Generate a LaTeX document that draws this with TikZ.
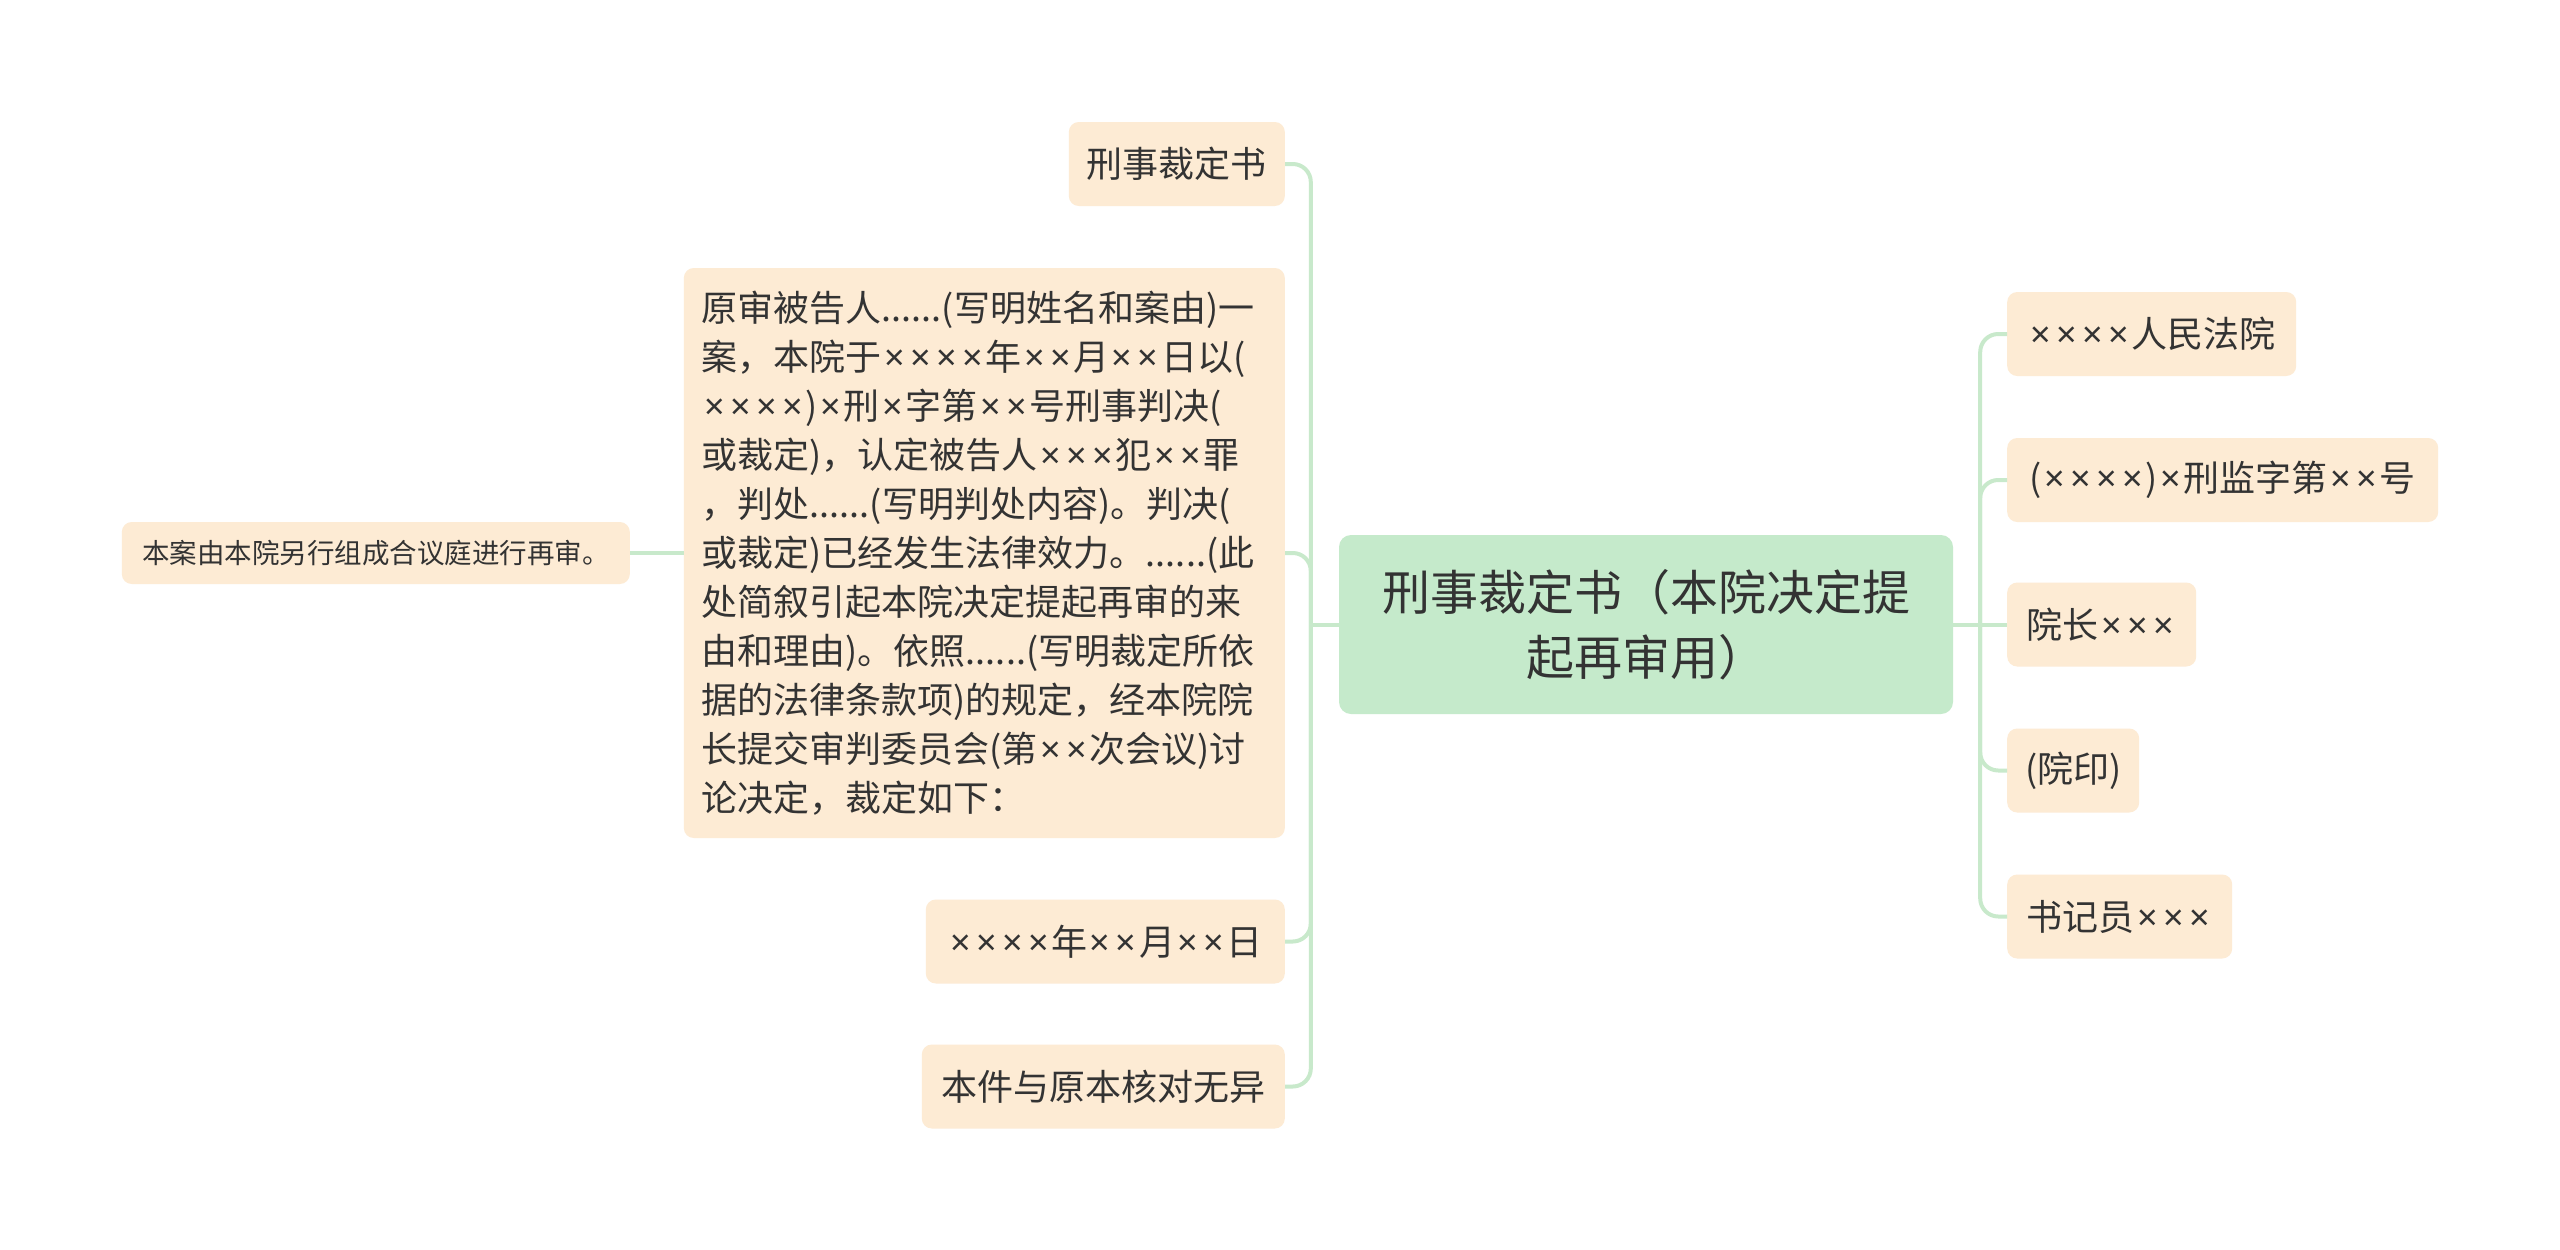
\documentclass[tikz,border=0pt]{standalone}
\usepackage{fontspec}
\setmainfont{Noto Sans CJK SC}
\newfontfamily\xfont{Noto Sans}
\newcommand\X{\makebox[0.72em]{\xfont ×}}
\usetikzlibrary{calc}
\definecolor{peach}{HTML}{FDEBD4}
\definecolor{rootg}{HTML}{C5EACB}
\definecolor{lineg}{HTML}{C8E9CB}
\definecolor{txt}{HTML}{333333}
\begin{document}
\begin{tikzpicture}[x=1pt,y=-1pt,
  leaf/.style={fill=peach, rounded corners=10, text=txt, inner sep=0pt,
    font=\fontsize{36}{49}\selectfont, minimum height=84},
  rootbox/.style={fill=rootg, rounded corners=12, text=txt, inner sep=0pt,
    align=center, font=\fontsize{48}{65}\selectfont},
  conn/.style={draw=lineg, line width=4, rounded corners=18}]
\useasboundingbox[fill=white] (0,0) rectangle (2560,1250);

% root
\node[rootbox, minimum width=614, minimum height=179] (root) at (1646,624.5)
  {刑事裁定书（本院决定提\\起再审用）};

% left children
\node[leaf, anchor=east, minimum width=216] (t1) at (1285,164) {刑事裁定书};
\node[leaf, anchor=east, minimum width=601, minimum height=570, align=left,
      text width=565, inner xsep=18] (big) at (1285,553)
  {原审被告人......(写明姓名和案由)一\\
   案，本院于\X\X\X\X 年\X\X 月\X\X 日以(\\
   \X\X\X\X)\X 刑\X 字第\X\X 号刑事判决(\\
   或裁定)，认定被告人\X\X\X 犯\X\X 罪\\
   ，判处......(写明判处内容)。判决(\\
   或裁定)已经发生法律效力。......(此\\
   处简叙引起本院决定提起再审的来\\
   由和理由)。依照......(写明裁定所依\\
   据的法律条款项)的规定，经本院院\\
   长提交审判委员会(第\X\X 次会议)讨\\
   论决定，裁定如下：};
\node[leaf, anchor=east, minimum width=508, minimum height=62,
      font=\fontsize{27.5}{33}\selectfont] (n1) at (630,553)
  {本案由本院另行组成合议庭进行再审。};
\node[leaf, anchor=east, minimum width=359] (date) at (1285,941.5) {\X\X\X\X 年\X\X 月\X\X 日};
\node[leaf, anchor=east, minimum width=363] (copy) at (1285,1086.5) {本件与原本核对无异};

% right children
\node[leaf, anchor=west, minimum width=289] (r1) at (2007,334) {\X\X\X\X 人民法院};
\node[leaf, anchor=west, minimum width=431] (r2) at (2007,480) {(\X\X\X\X)\X 刑监字第\X\X 号};
\node[leaf, anchor=west, minimum width=189] (r3) at (2007,624.5) {院长\X\X\X};
\node[leaf, anchor=west, minimum width=132] (r4) at (2007,770.5) {(院印)};
\node[leaf, anchor=west, minimum width=225] (r5) at (2007,916.5) {书记员\X\X\X};

% connectors
\coordinate (LT) at ($(root.west)+(-28,0)$);
\coordinate (RT) at ($(root.east)+(27,0)$);
\draw[conn] (root.west) -- (LT);
\draw[conn] (LT) |- (t1.east);
\draw[conn] (LT) |- (big.east);
\draw[conn] (LT) |- (date.east);
\draw[conn] (LT) |- (copy.east);
\draw[conn] (big.west) -- (n1.east);
\draw[conn] (root.east) -- (RT);
\draw[conn] (RT) |- (r1.west);
\draw[conn] (RT) |- (r2.west);
\draw[conn] (RT) -- (r3.west);
\draw[conn] (RT) |- (r4.west);
\draw[conn] (RT) |- (r5.west);
\end{tikzpicture}
\end{document}
